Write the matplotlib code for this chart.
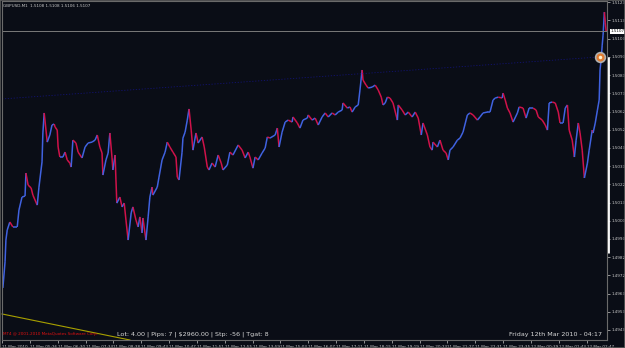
import numpy as np
import matplotlib
matplotlib.use("Agg")
import matplotlib.pyplot as plt
from matplotlib.collections import LineCollection

# minutes since the first bar (11 Mar 04:22) and close price
minutes = [
    2, 7, 9, 12, 18, 25, 35, 39, 46, 53, 55, 60, 67, 71, 81, 85, 92, 94, 97, 104,
    110, 115, 120, 122, 127, 129, 133, 140, 145, 150, 156, 159, 163, 170, 175, 184,
    191, 198, 207, 214, 219, 225, 230, 232, 239, 244, 248, 253, 255, 260, 262, 264,
    271, 276, 281, 285, 290, 297, 301, 308, 313, 317, 322, 324, 331, 336, 340, 345,
    347, 357, 361, 368, 375, 380, 386, 393, 400, 403, 407, 414, 416, 421, 426, 430,
    435, 439, 446, 451, 460, 465, 472, 476, 483, 490, 497, 504, 508, 518, 524, 531,
    543, 552, 559, 566, 570, 577, 582, 589, 598, 605, 610, 616, 628, 633, 637, 644,
    651, 658, 667, 669, 679, 685, 692, 702, 704, 713, 720, 727, 736, 743, 750, 759,
    766, 773, 782, 784, 794, 800, 805, 812, 819, 823, 826, 828, 830, 837, 842, 851,
    858, 865, 872, 876, 881, 886, 892, 899, 909, 911, 920, 927, 934, 943, 950, 957,
    964, 968, 978, 984, 989, 991, 1001, 1007, 1014, 1021, 1026, 1030, 1037, 1047,
    1053, 1060, 1070, 1076, 1083, 1093, 1099, 1106, 1116, 1122, 1129, 1134, 1141,
    1150, 1152, 1157, 1162, 1168, 1175, 1185, 1189, 1198, 1205, 1212, 1221, 1228,
    1233, 1242, 1249, 1254, 1258, 1265, 1272, 1279, 1283, 1290, 1295, 1300, 1304,
    1311, 1316, 1320, 1325, 1329, 1334, 1339, 1346, 1350, 1357, 1359, 1364, 1369,
    1371, 1373, 1375, 1378, 1380, 1382, 1385, 1387, 1389,
]
closes = [
    1.49661, 1.49804, 1.49924, 1.49979, 1.50023, 1.49996, 1.49996, 1.50089, 1.50160, 1.50166,
    1.50292, 1.50226, 1.50210, 1.50171, 1.50116, 1.50215, 1.50353, 1.50512, 1.50622, 1.50462,
    1.50501, 1.50556, 1.50561, 1.50545, 1.50528, 1.50435, 1.50380, 1.50380, 1.50407, 1.50364,
    1.50347, 1.50325, 1.50473, 1.50457, 1.50407, 1.50375, 1.50435, 1.50457, 1.50462, 1.50473,
    1.50501, 1.50435, 1.50402, 1.50281, 1.50364, 1.50402, 1.50512, 1.50375, 1.50309, 1.50391,
    1.50254, 1.50127, 1.50160, 1.50106, 1.50127, 1.50034, 1.49924, 1.50073, 1.50106, 1.50034,
    1.49996, 1.50051, 1.49963, 1.50045, 1.49924, 1.50051, 1.50160, 1.50215, 1.50171, 1.50215,
    1.50270, 1.50364, 1.50407, 1.50462, 1.50435, 1.50407, 1.50380, 1.50270, 1.50254, 1.50407,
    1.50484, 1.50517, 1.50583, 1.50644, 1.50528, 1.50418, 1.50512, 1.50457, 1.50490, 1.50435,
    1.50325, 1.50309, 1.50347, 1.50325, 1.50391, 1.50347, 1.50309, 1.50336, 1.50407, 1.50391,
    1.50446, 1.50418, 1.50375, 1.50407, 1.50380, 1.50319, 1.50380, 1.50364, 1.50402, 1.50429,
    1.50490, 1.50484, 1.50501, 1.50539, 1.50435, 1.50517, 1.50572, 1.50583, 1.50572, 1.50600,
    1.50567, 1.50539, 1.50583, 1.50594, 1.50611, 1.50583, 1.50594, 1.50556, 1.50600, 1.50622,
    1.50600, 1.50622, 1.50611, 1.50627, 1.50638, 1.50677, 1.50649, 1.50655, 1.50627, 1.50655,
    1.50666, 1.50748, 1.50814, 1.50858, 1.50803, 1.50775, 1.50759, 1.50764, 1.50775, 1.50748,
    1.50709, 1.50666, 1.50677, 1.50709, 1.50704, 1.50677, 1.50583, 1.50666, 1.50638, 1.50611,
    1.50627, 1.50600, 1.50627, 1.50594, 1.50501, 1.50567, 1.50501, 1.50435, 1.50418, 1.50462,
    1.50435, 1.50473, 1.50418, 1.50402, 1.50364, 1.50418, 1.50435, 1.50473, 1.50484, 1.50517,
    1.50611, 1.50622, 1.50611, 1.50583, 1.50600, 1.50622, 1.50627, 1.50627, 1.50693, 1.50704,
    1.50709, 1.50704, 1.50731, 1.50693, 1.50649, 1.50622, 1.50572, 1.50622, 1.50655, 1.50649,
    1.50594, 1.50649, 1.50649, 1.50638, 1.50600, 1.50583, 1.50556, 1.50528, 1.50677, 1.50682,
    1.50677, 1.50627, 1.50567, 1.50567, 1.50649, 1.50666, 1.50528, 1.50473, 1.50380, 1.50473,
    1.50567, 1.50512, 1.50418, 1.50265, 1.50347, 1.50418, 1.50528, 1.50512, 1.50567, 1.50638,
    1.50666, 1.50693, 1.50858, 1.50929, 1.50995, 1.51050, 1.51176, 1.51121, 1.51072,
]

# chart objects
bid_price = 1.5107
trend_t = [0, 1369]
trend_p = [1.50699, 1.50929]
yellow_t = [0, 294]
yellow_p = [1.49518, 1.49375]
marker_t, marker_p = 1375, 1.50929
bar_range = [1.50929, 1.49852]

price_labels = ["1.5123", "1.5113", "1.5103", "1.5093", "1.5083", "1.5073", "1.5062",
                "1.5052", "1.5043", "1.5033", "1.5022", "1.5013", "1.5003", "1.4993",
                "1.4982", "1.4972", "1.4963", "1.4953", "1.4943"]
time_labels = ["11 Mar 2010", "11 Mar 05:26", "11 Mar 06:30", "11 Mar 07:34", "11 Mar 08:38",
               "11 Mar 09:43", "11 Mar 10:47", "11 Mar 11:51", "11 Mar 12:55", "11 Mar 13:59",
               "11 Mar 15:03", "11 Mar 16:07", "11 Mar 17:11", "11 Mar 18:15", "11 Mar 19:19",
               "11 Mar 20:23", "11 Mar 21:27", "11 Mar 22:31", "11 Mar 23:35", "12 Mar 00:39",
               "12 Mar 01:43", "12 Mar 02:47"]

bg = "#0a0d16"
fig = plt.figure(figsize=(6.25, 3.48), dpi=100, facecolor=bg)
ax = fig.add_axes([2 / 625, 8 / 348, 605 / 625, 339 / 348], facecolor=bg)

# price path, blue where it rises, red where it falls
t = np.array(minutes)
p = np.array(closes)
segs = np.stack([np.column_stack([t[:-1], p[:-1]]), np.column_stack([t[1:], p[1:]])], axis=1)
cols = np.where(p[1:] >= p[:-1], "#4062e0", "#d0124a")
ax.add_collection(LineCollection(segs, colors=cols, linewidths=1.1))

ax.axhline(bid_price, color="#7a7a7a", lw=0.7)
ax.plot(trend_t, trend_p, color="#121272", lw=0.6, ls=(0, (1.5, 2)))
ax.plot(yellow_t, yellow_p, color="#a8a000", lw=0.8, clip_on=False)
ax.plot(marker_t, marker_p, "o", ms=7, mfc="#e07a30", mec="#b0b0b0", mew=1.2)
ax.plot(marker_t, marker_p, "o", ms=2.5, mfc="#fff4d0", mec="none")

ax.set_xlim(0, 1391)
ax.set_ylim(1.49375, 1.51237)

ax.yaxis.tick_right()
ax.set_yticks(np.linspace(1.5123, 1.4943, 19))
ax.set_yticklabels(price_labels)
ax.set_xticks(np.arange(len(time_labels)) * 64)
ax.set_xticklabels(time_labels, ha="left")
ax.tick_params(colors="#c8c8c8", labelsize=3, length=2, width=0.5, pad=1.5)
for s in ax.spines.values():
    s.set_color("#6a6a6a")
    s.set_linewidth(0.8)

# white range bar on the price scale
ax.plot([1393, 1393], bar_range, color="white", lw=2, clip_on=False, solid_capstyle="butt")

ax.text(1.006, bid_price, "1.5107", transform=ax.get_yaxis_transform(),
        fontsize=3, color="#101010", va="center", ha="left",
        bbox=dict(boxstyle="square,pad=0.2", fc="white", ec="none"))

ax.text(0.002, 0.992, "GBPUSD,M1  1.5108 1.5108 1.5106 1.5107", transform=ax.transAxes,
        fontsize=3, color="#c8c8c8", va="top", ha="left")
ax.text(0.002, 0.012, "MT4 @ 2001-2010 MetaQuotes Software Corp.", transform=ax.transAxes,
        fontsize=3, color="#e01010", va="bottom", ha="left")
ax.text(0.19, 0.01, "Lot: 4.00 | Pips: 7 | $2960.00 | Stp: -56 | Tgat: 8", transform=ax.transAxes,
        fontsize=4.6, color="#d8d8d8", va="bottom", ha="left")
ax.text(0.992, 0.01, "Friday 12th Mar 2010 - 04:17", transform=ax.transAxes,
        fontsize=4.6, color="#d8d8d8", va="bottom", ha="right")

fig.patches.append(plt.Rectangle((0, 0), 1, 1, transform=fig.transFigure, fill=False,
                                 ec="#5a5a5a", lw=1.2))
fig.savefig("out.png", dpi=100, facecolor=bg)
